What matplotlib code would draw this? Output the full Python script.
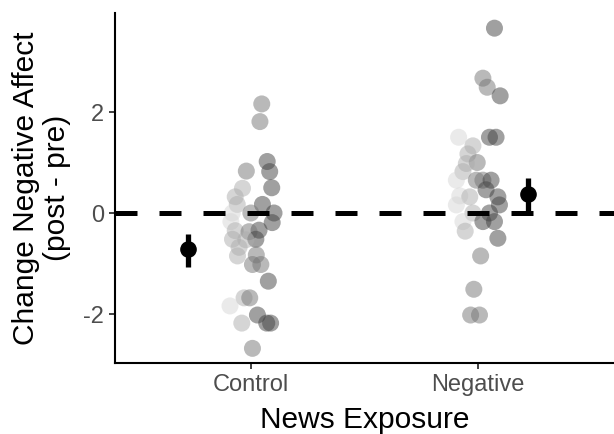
import numpy as np
import matplotlib.pyplot as plt

plt.rcParams['font.family'] = ['Liberation Sans', 'DejaVu Sans']

groups = ['Control', 'Negative']

# jittered individual change scores (x offset from group centre, value, grey tone 0=light..3=dark)
control_jit = [0.047, 0.039, 0.071, 0.082, -0.021, 0.091, -0.038, -0.070, -0.061, 0.050,
               0.101, -0.083, -0.001, 0.093, -0.089, 0.035, -0.070, -0.009, 0.021, -0.082,
               -0.023, -0.053, -0.060, 0.023, 0.006, 0.043, 0.076, -0.031, -0.006, -0.093,
               0.028, 0.069, 0.086, -0.041, 0.006]
control_val = [2.16, 1.81, 1.02, 0.82, 0.83, 0.50, 0.49, 0.32, 0.17, 0.17,
               0.0, 0.0, 0.0, -0.19, -0.17, -0.34, -0.35, -0.37, -0.52, -0.52,
               -0.53, -0.68, -0.85, -0.83, -1.02, -1.02, -1.35, -1.68, -1.68, -1.84,
               -2.02, -2.18, -2.18, -2.18, -2.68]
control_tone = [2, 2, 3, 3, 2, 3, 1, 1, 1, 3,
                3, 0, 2, 3, 0, 3, 1, 2, 3, 1,
                1, 1, 1, 2, 2, 2, 3, 1, 2, 0,
                3, 3, 3, 1, 2]

negative_jit = [0.073, 0.022, 0.041, 0.098, -0.085, 0.051, 0.080, -0.022, -0.044, -0.003,
                -0.051, -0.066, -0.095, -0.007, 0.022, 0.058, 0.036, 0.088, -0.080, -0.036,
                -0.095, 0.095, -0.022, 0.051, 0.073, 0.022, -0.066, -0.056, 0.088, 0.012,
                -0.018, -0.032, 0.007]
negative_val = [3.66, 2.67, 2.49, 2.32, 1.50, 1.50, 1.50, 1.33, 1.17, 1.00,
                0.98, 0.82, 0.65, 0.65, 0.65, 0.65, 0.46, 0.32, 0.34, 0.32,
                0.16, 0.16, 0.0, 0.0, -0.17, -0.17, -0.17, -0.36, -0.50, -0.85,
                -1.51, -2.02, -2.02]
negative_tone = [3, 2, 2, 3, 0, 3, 3, 1, 1, 2,
                 1, 1, 0, 2, 2, 3, 3, 3, 0, 1,
                 0, 3, 1, 3, 3, 3, 0, 1, 3, 2,
                 2, 2, 2]

# group means with 95% CI, drawn beside the clouds
mean_offset = [-0.28, 0.22]
means = [-0.71, 0.38]
ci_low = [-1.07, 0.02]
ci_high = [-0.42, 0.69]

tone_grey = {0: 0.84, 1: 0.68, 2: 0.46, 3: 0.26}

fig = plt.figure(figsize=(6.14, 4.34), dpi=100)
ax = fig.add_axes([0.1873, 0.1636, 0.8127, 0.8064])

for i, (jit, val, tone) in enumerate([(control_jit, control_val, control_tone),
                                      (negative_jit, negative_val, negative_tone)]):
    x = i + 1 + np.array(jit)
    cols = [(tone_grey[t],) * 3 for t in tone]
    ax.scatter(x, val, s=150, c=cols, alpha=0.5, linewidths=0, zorder=2)

ax.axhline(0, color='black', lw=3.6, ls=(0, (4.4, 4.4)), zorder=3)

mx = np.arange(1, 3) + np.array(mean_offset)
ax.vlines(mx, ci_low, ci_high, color='black', lw=3.8, zorder=4)
ax.scatter(mx, means, s=120, color='black', zorder=5)

ax.set_xlim(0.4, 2.6)
ax.set_ylim(-2.97, 3.96)
ax.set_xticks([1, 2])
ax.set_xticklabels(groups)
ax.set_yticks([-2, 0, 2])
ax.set_yticklabels(['-2', '0', '2'])

for s in ['top', 'right']:
    ax.spines[s].set_visible(False)
for s in ['left', 'bottom']:
    ax.spines[s].set_linewidth(1.5)

ax.tick_params(axis='both', length=4, width=1.3, color='#333333',
               labelcolor='#4d4d4d', labelsize=17, pad=4)

ax.set_xlabel('News Exposure', fontsize=21.5, labelpad=7)
ax.set_ylabel('Change Negative Affect\n(post - pre)', fontsize=21.5, labelpad=9,
              linespacing=1.1)

fig.savefig('out.png', dpi=100)
